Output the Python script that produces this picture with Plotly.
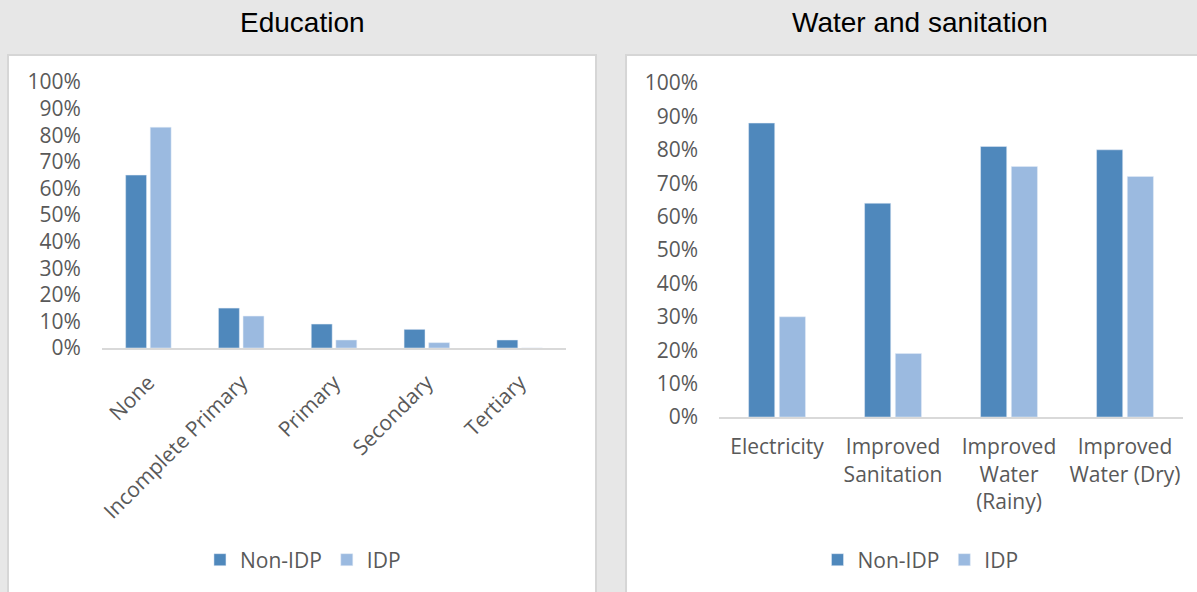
import plotly.graph_objects as go
from plotly.subplots import make_subplots

# data
edu_levels = ["None", "Incomplete Primary", "Primary", "Secondary", "Tertiary"]
edu_non_idp = [0.65, 0.15, 0.09, 0.07, 0.03]
edu_idp = [0.83, 0.12, 0.03, 0.02, 0.0]

wash_items = ["Electricity", "Improved<br>Sanitation", "Improved<br>Water<br>(Rainy)", "Improved<br>Water (Dry)"]
wash_non_idp = [0.88, 0.64, 0.81, 0.80]
wash_idp = [0.30, 0.19, 0.75, 0.72]

dark = "#4f88bc"
light = "#9bbae0"
font_family = "Open Sans, sans-serif"
tick_font = dict(family=font_family, size=21, color="#595959")

fig = make_subplots(rows=1, cols=2)

fig.add_trace(go.Bar(x=edu_levels, y=edu_non_idp, name="Non-IDP", marker_color=dark,
                     legend="legend"), row=1, col=1)
fig.add_trace(go.Bar(x=edu_levels, y=edu_idp, name="IDP", marker_color=light,
                     legend="legend"), row=1, col=1)
fig.add_trace(go.Bar(x=wash_items, y=wash_non_idp, name="Non-IDP", marker_color=dark,
                     legend="legend2"), row=1, col=2)
fig.add_trace(go.Bar(x=wash_items, y=wash_idp, name="IDP", marker_color=light,
                     legend="legend2"), row=1, col=2)

fig.update_traces(hoverinfo="skip")

axis_common = dict(showgrid=False, zeroline=False, tickfont=tick_font, ticks="", automargin=False)
fig.update_layout(
    xaxis=dict(domain=[0.0852, 0.4729], showline=True, linecolor="#d9d9d9", linewidth=2,
               tickangle=-45, ticklabelstandoff=12, **axis_common),
    yaxis=dict(domain=[0.4122, 0.8615], range=[0, 1], dtick=0.1, tickformat=".0%",
               showline=False, ticklabelstandoff=20, **axis_common),
    xaxis2=dict(domain=[0.6007, 0.9883], showline=True, linecolor="#d9d9d9", linewidth=2,
                tickangle=0, ticklabelstandoff=10, **axis_common),
    yaxis2=dict(domain=[0.2956, 0.8598], range=[0, 1], dtick=0.1, tickformat=".0%",
                showline=False, ticklabelstandoff=20, **axis_common),
)

legend_font = dict(family=font_family, size=21, color="#595959")
title_font = dict(family="Liberation Sans, Arial, sans-serif", size=28, color="black")
fig.update_layout(
    width=1197, height=592,
    margin=dict(l=0, r=0, t=0, b=0, autoexpand=False),
    paper_bgcolor="#e7e7e7",
    plot_bgcolor="white",
    barmode="group",
    bargap=0.47,
    bargroupgap=0.15,
    legend=dict(orientation="h", x=0.2531, xanchor="center", y=0.054, yanchor="middle",
                font=legend_font, bgcolor="rgba(0,0,0,0)", itemwidth=30),
    legend2=dict(orientation="h", x=0.769, xanchor="center", y=0.054, yanchor="middle",
                 font=legend_font, bgcolor="rgba(0,0,0,0)", itemwidth=30),
    shapes=[
        dict(type="rect", xref="paper", yref="paper", x0=0.0067, x1=0.4979, y0=-0.05, y1=0.9071,
             fillcolor="white", line=dict(color="#d6d6d6", width=2), layer="below"),
        dict(type="rect", xref="paper", yref="paper", x0=0.523, x1=1.01, y0=-0.05, y1=0.9071,
             fillcolor="white", line=dict(color="#d6d6d6", width=2), layer="below"),
    ],
    annotations=[
        dict(text="Education", x=0.2531, y=0.9628, xref="paper", yref="paper", showarrow=False,
             xanchor="center", yanchor="middle", font=title_font),
        dict(text="Water and sanitation", x=0.769, y=0.9628, xref="paper", yref="paper",
             showarrow=False, xanchor="center", yanchor="middle", font=title_font),
    ],
)

fig.write_html("out.html", config={"displayModeBar": False},
               post_script="document.body.style.margin='0';")
